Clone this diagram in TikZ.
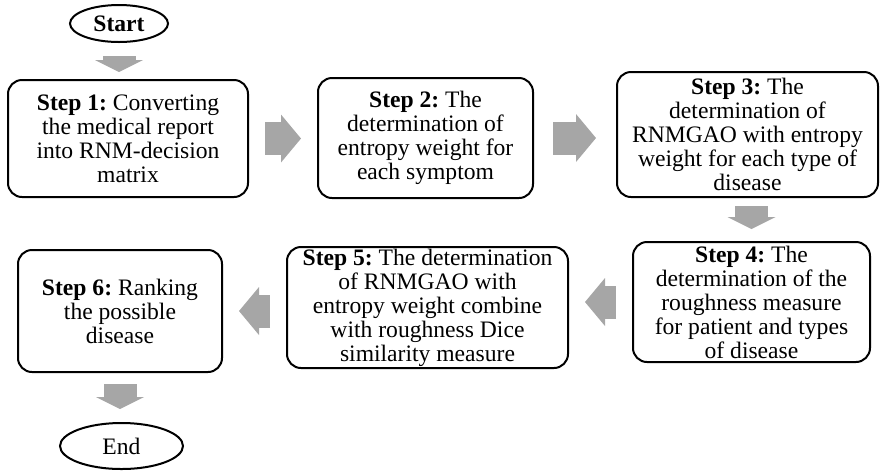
\documentclass[tikz,border=0pt]{standalone}
\usepackage{fontspec}
\setmainfont{Liberation Serif}
\usetikzlibrary{shapes.geometric,arrows.meta}
\definecolor{flowgray}{RGB}{166,166,166}
\frenchspacing

\begin{document}
\begin{tikzpicture}[
    x=0.5pt, y=-0.5pt,
    every node/.style={font=\fontsize{11.8}{12}\selectfont},
    stepbox/.style={rectangle, draw, line width=1pt, rounded corners=7pt, align=center, inner sep=0pt},
    term/.style={ellipse, draw, line width=1pt, inner sep=0pt},
    harr/.style={draw=flowgray, line width=16.5pt, -{Triangle[width=24pt, length=10pt, line width=0pt]}, shorten <=8pt, shorten >=8pt},
    varr/.style={harr, -{Triangle[width=24pt, length=6pt, line width=0pt]}, shorten <=5.5pt, shorten >=6.5pt},
]
\useasboundingbox (0,0) rectangle (880,473);
% terminals
\node[term, minimum width=49pt, minimum height=18.5pt] (start) at (119,23.5) {\textbf{Start}};
\node[term, minimum width=61.5pt, minimum height=23pt] (end) at (121.5,446) {End};
% first row
\node[stepbox, minimum width=120pt, minimum height=58.5pt] (s1) at (128,138.5)
  {\textbf{Step 1:} Converting\\ the medical report\\ into RNM-decision\\ matrix};
\node[stepbox, minimum width=107.5pt, minimum height=60pt] (s2) at (425.5,138)
  {\textbf{Step 2:} The\\ determination of\\ entropy weight for\\ each symptom};
\node[stepbox, minimum width=130.5pt, minimum height=62.5pt] (s3) at (747.5,134.5)
  {\textbf{Step 3:} The\\ determination of\\ RNMGAO with entropy\\ weight for each type of\\ disease};
% second row
\node[stepbox, minimum width=118.5pt, minimum height=60pt] (s4) at (751.5,302)
  {\textbf{Step 4:} The\\ determination of the\\ roughness measure\\ for patient and types\\ of disease};
\node[stepbox, minimum width=140.5pt, minimum height=60.5pt] (s5) at (427.5,307.5)
  {\textbf{Step 5:} The determination\\ of RNMGAO with\\ entropy weight combine\\ with roughness Dice\\ similarity measure};
\node[stepbox, minimum width=102pt, minimum height=61pt] (s6) at (120,311)
  {\textbf{Step 6:} Ranking\\ the possible\\ disease};
% block arrows
\draw[varr, shorten <=6.5pt, shorten >=3.5pt] (start) -- (start |- s1.north);
\draw[harr] (s1) -- (s1 -| s2.west);
\draw[harr, shorten <=9.5pt, shorten >=10pt] (s2) -- (s2 -| s3.west);
\draw[varr, shorten <=4pt, shorten >=6pt] (s3.south -| s4) -- (s4);
\draw[harr] (s4) -- (s4 -| s5.east);
\draw[harr] (s6 -| s5.west) -- (s6);
\draw[varr] (s6) -- (s6 |- end.north);
\end{tikzpicture}
\end{document}
